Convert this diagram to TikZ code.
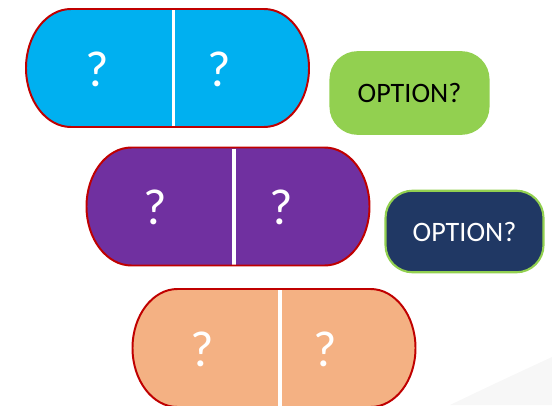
\documentclass[tikz,border=0pt]{standalone}
\usepackage{fontspec}
\setmainfont{Carlito}
\usepackage{xcolor}

\definecolor{pillred}{HTML}{C00000}
\definecolor{pillblue}{HTML}{00B0F0}
\definecolor{pillpurple}{HTML}{7030A0}
\definecolor{pillpeach}{HTML}{F4B183}
\definecolor{optgreen}{HTML}{92D050}
\definecolor{optnavy}{HTML}{203864}

\tikzset{
    pillborder/.style={draw=pillred, line width=1.4pt},
    divider/.style={draw=white, line width=2.2pt},
    qmark/.style={text=white, inner sep=0pt, font=\fontsize{36}{40}\selectfont},
    optionbox/.style={rectangle, rounded corners=0.68cm, minimum width=3.95cm, minimum height=2.04cm, line width=1.5pt, font=\fontsize{20}{24}\selectfont}
}

\begin{document}
\begin{tikzpicture}
            \useasboundingbox (0, 0) rectangle (13.8, 10.125);
            \fill[black!3] (11.25, 0) .. controls (12.4, 0.55) .. (13.8, 1.2) -- (13.8, 0) -- cycle;

            % first pill
            \begin{scope}[shift={(4.1875, 8.425)}]
                \fill[pillblue] (-2.4125, 1.475) -- (2.4125, 1.475) arc[start angle=90, end angle=-90, x radius=1.125, y radius=1.475] -- (-2.4125, -1.475) arc[start angle=270, end angle=90, x radius=1.125, y radius=1.475] -- cycle;
                \draw[divider] (0.15, 1.45) -- (0.15, -1.45);
                \draw[pillborder] (-2.4125, 1.475) -- (2.4125, 1.475) arc[start angle=90, end angle=-90, x radius=1.125, y radius=1.475] -- (-2.4125, -1.475) arc[start angle=270, end angle=90, x radius=1.125, y radius=1.475] -- cycle;
                \node[qmark] (blueleft) at (-1.76, -0.03) {?};
                \node[qmark] (blueright) at (1.29, -0.03) {?};
            \end{scope}

            % second pill
            \begin{scope}[shift={(5.7, 4.9625)}]
                \fill[pillpurple] (-2.4125, 1.475) -- (2.4125, 1.475) arc[start angle=90, end angle=-90, x radius=1.125, y radius=1.475] -- (-2.4125, -1.475) arc[start angle=270, end angle=90, x radius=1.125, y radius=1.475] -- cycle;
                \draw[divider] (0.15, 1.45) -- (0.15, -1.45);
                \draw[pillborder] (-2.4125, 1.475) -- (2.4125, 1.475) arc[start angle=90, end angle=-90, x radius=1.125, y radius=1.475] -- (-2.4125, -1.475) arc[start angle=270, end angle=90, x radius=1.125, y radius=1.475] -- cycle;
                \node[qmark] (purpleleft) at (-1.82, -0.03) {?};
                \node[qmark] (purpleright) at (1.32, -0.03) {?};
            \end{scope}

            % third pill
            \begin{scope}[shift={(6.85, 1.425)}]
                \fill[pillpeach] (-2.4125, 1.475) -- (2.4125, 1.475) arc[start angle=90, end angle=-90, x radius=1.125, y radius=1.475] -- (-2.4125, -1.475) arc[start angle=270, end angle=90, x radius=1.125, y radius=1.475] -- cycle;
                \draw[divider] (0.15, 1.45) -- (0.15, -1.45);
                \draw[pillborder] (-2.4125, 1.475) -- (2.4125, 1.475) arc[start angle=90, end angle=-90, x radius=1.125, y radius=1.475] -- (-2.4125, -1.475) arc[start angle=270, end angle=90, x radius=1.125, y radius=1.475] -- cycle;
                \node[qmark] (peachleft) at (-1.8, -0.03) {?};
                \node[qmark] (peachright) at (1.28, -0.03) {?};
            \end{scope}

            % options
            \node[optionbox, draw=optgreen, fill=optgreen, text=black] (greenoption) at (10.2375, 7.8) {OPTION?};
            \node[optionbox, draw=optgreen, fill=optnavy, text=white] (navyoption) at (11.6125, 4.3375) {OPTION?};
\end{tikzpicture}
\end{document}
